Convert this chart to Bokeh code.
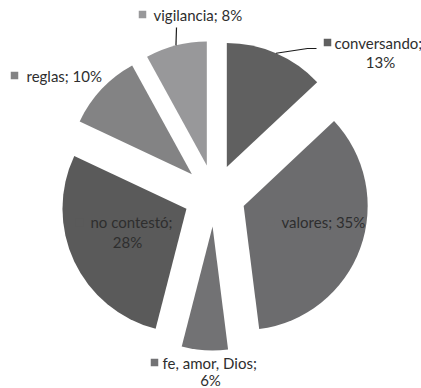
import numpy as np
from bokeh.plotting import figure
from bokeh.models import Range1d, ColumnDataSource
from bokeh.core.properties import value
from bokeh.embed import file_html
from bokeh.resources import INLINE

# ---- data ----
categories = ["conversando", "valores", "fe, amor, Dios", "no contestó", "reglas", "vigilancia"]
percents = [13, 35, 6, 28, 10, 8]

# ---- style / layout ----
W, H = 421, 388
colors = ["#606060", "#6c6c6e", "#727274", "#5a5a5a", "#838384", "#98989a"]
CX, CY = 214, 195          # pie centre (pixels from top-left)
R = 124                     # radius
EXPLODE = 31                # explode offset
FONT = "Lato"
FS = "15px"
TXT = "#2e2e2e"

# label layout: (marker x, marker y, text-left x, line1 y, line2 centre x, line2 y)
label_pos = [
    (327, 42, 334, 42, 380, 61),
    (270, 221, 281, 221, None, None),
    (154, 362, 162, 362, 210, 379),
    (79, 222, 90, 221, 127, 241),
    (14, 75, 26, 75, None, None),
    (142, 14, 153, 14, None, None),
]
leader_ends = {0: [(307, 48), (316, 48)], 5: [(176, 27)]}

def fy(y):
    return H - y

p = figure(width=W, height=H, output_backend="svg", toolbar_location=None,
           x_range=Range1d(0, W), y_range=Range1d(0, H), min_border=0)
p.axis.visible = False
p.grid.visible = False
p.outline_line_color = None
p.background_fill_color = "white"
p.border_fill_color = "white"

total = float(sum(percents))
frac = np.array(percents) / total
cum_end = np.cumsum(frac)
cum_start = cum_end - frac
mid = (cum_start + cum_end) / 2
# clockwise from 12 o'clock, converted to math angles
start_angle = np.pi / 2 - 2 * np.pi * cum_end
end_angle = np.pi / 2 - 2 * np.pi * cum_start
mid_angle = np.pi / 2 - 2 * np.pi * mid

xs = CX + EXPLODE * np.cos(mid_angle)
ys = fy(CY) + EXPLODE * np.sin(mid_angle)

src = ColumnDataSource(dict(x=xs, y=ys, start=start_angle, end=end_angle,
                            color=colors, cat=categories))
p.wedge(x="x", y="y", radius=R, start_angle="start", end_angle="end",
        fill_color="color", line_color=None, source=src)

# leader lines from outer-arc midpoint
for i, pts in leader_ends.items():
    sx = xs[i] + R * np.cos(mid_angle[i])
    sy = ys[i] + R * np.sin(mid_angle[i])
    lx = [sx] + [q[0] for q in pts]
    ly = [sy] + [fy(q[1]) for q in pts]
    p.line(lx, ly, line_color="#1a1a1a", line_width=1.2)

# labels
for i, (mx, my, tx, ty, cx2, ty2) in enumerate(label_pos):
    p.scatter([mx], [fy(my)], marker="square", size=7.5, fill_color=colors[i], line_color=None)
    if cx2 is None:
        p.text([tx], [fy(ty)], text=[f"{categories[i]}; {percents[i]}%"],
               text_font=value(FONT), text_font_size=FS, text_color=TXT,
               text_align="left", text_baseline="middle")
    else:
        p.text([tx], [fy(ty)], text=[f"{categories[i]};"],
               text_font=value(FONT), text_font_size=FS, text_color=TXT,
               text_align="left", text_baseline="middle")
        p.text([cx2], [fy(ty2)], text=[f"{percents[i]}%"],
               text_font=value(FONT), text_font_size=FS, text_color=TXT,
               text_align="center", text_baseline="middle")

open("out.html", "w").write(file_html(p, INLINE))
